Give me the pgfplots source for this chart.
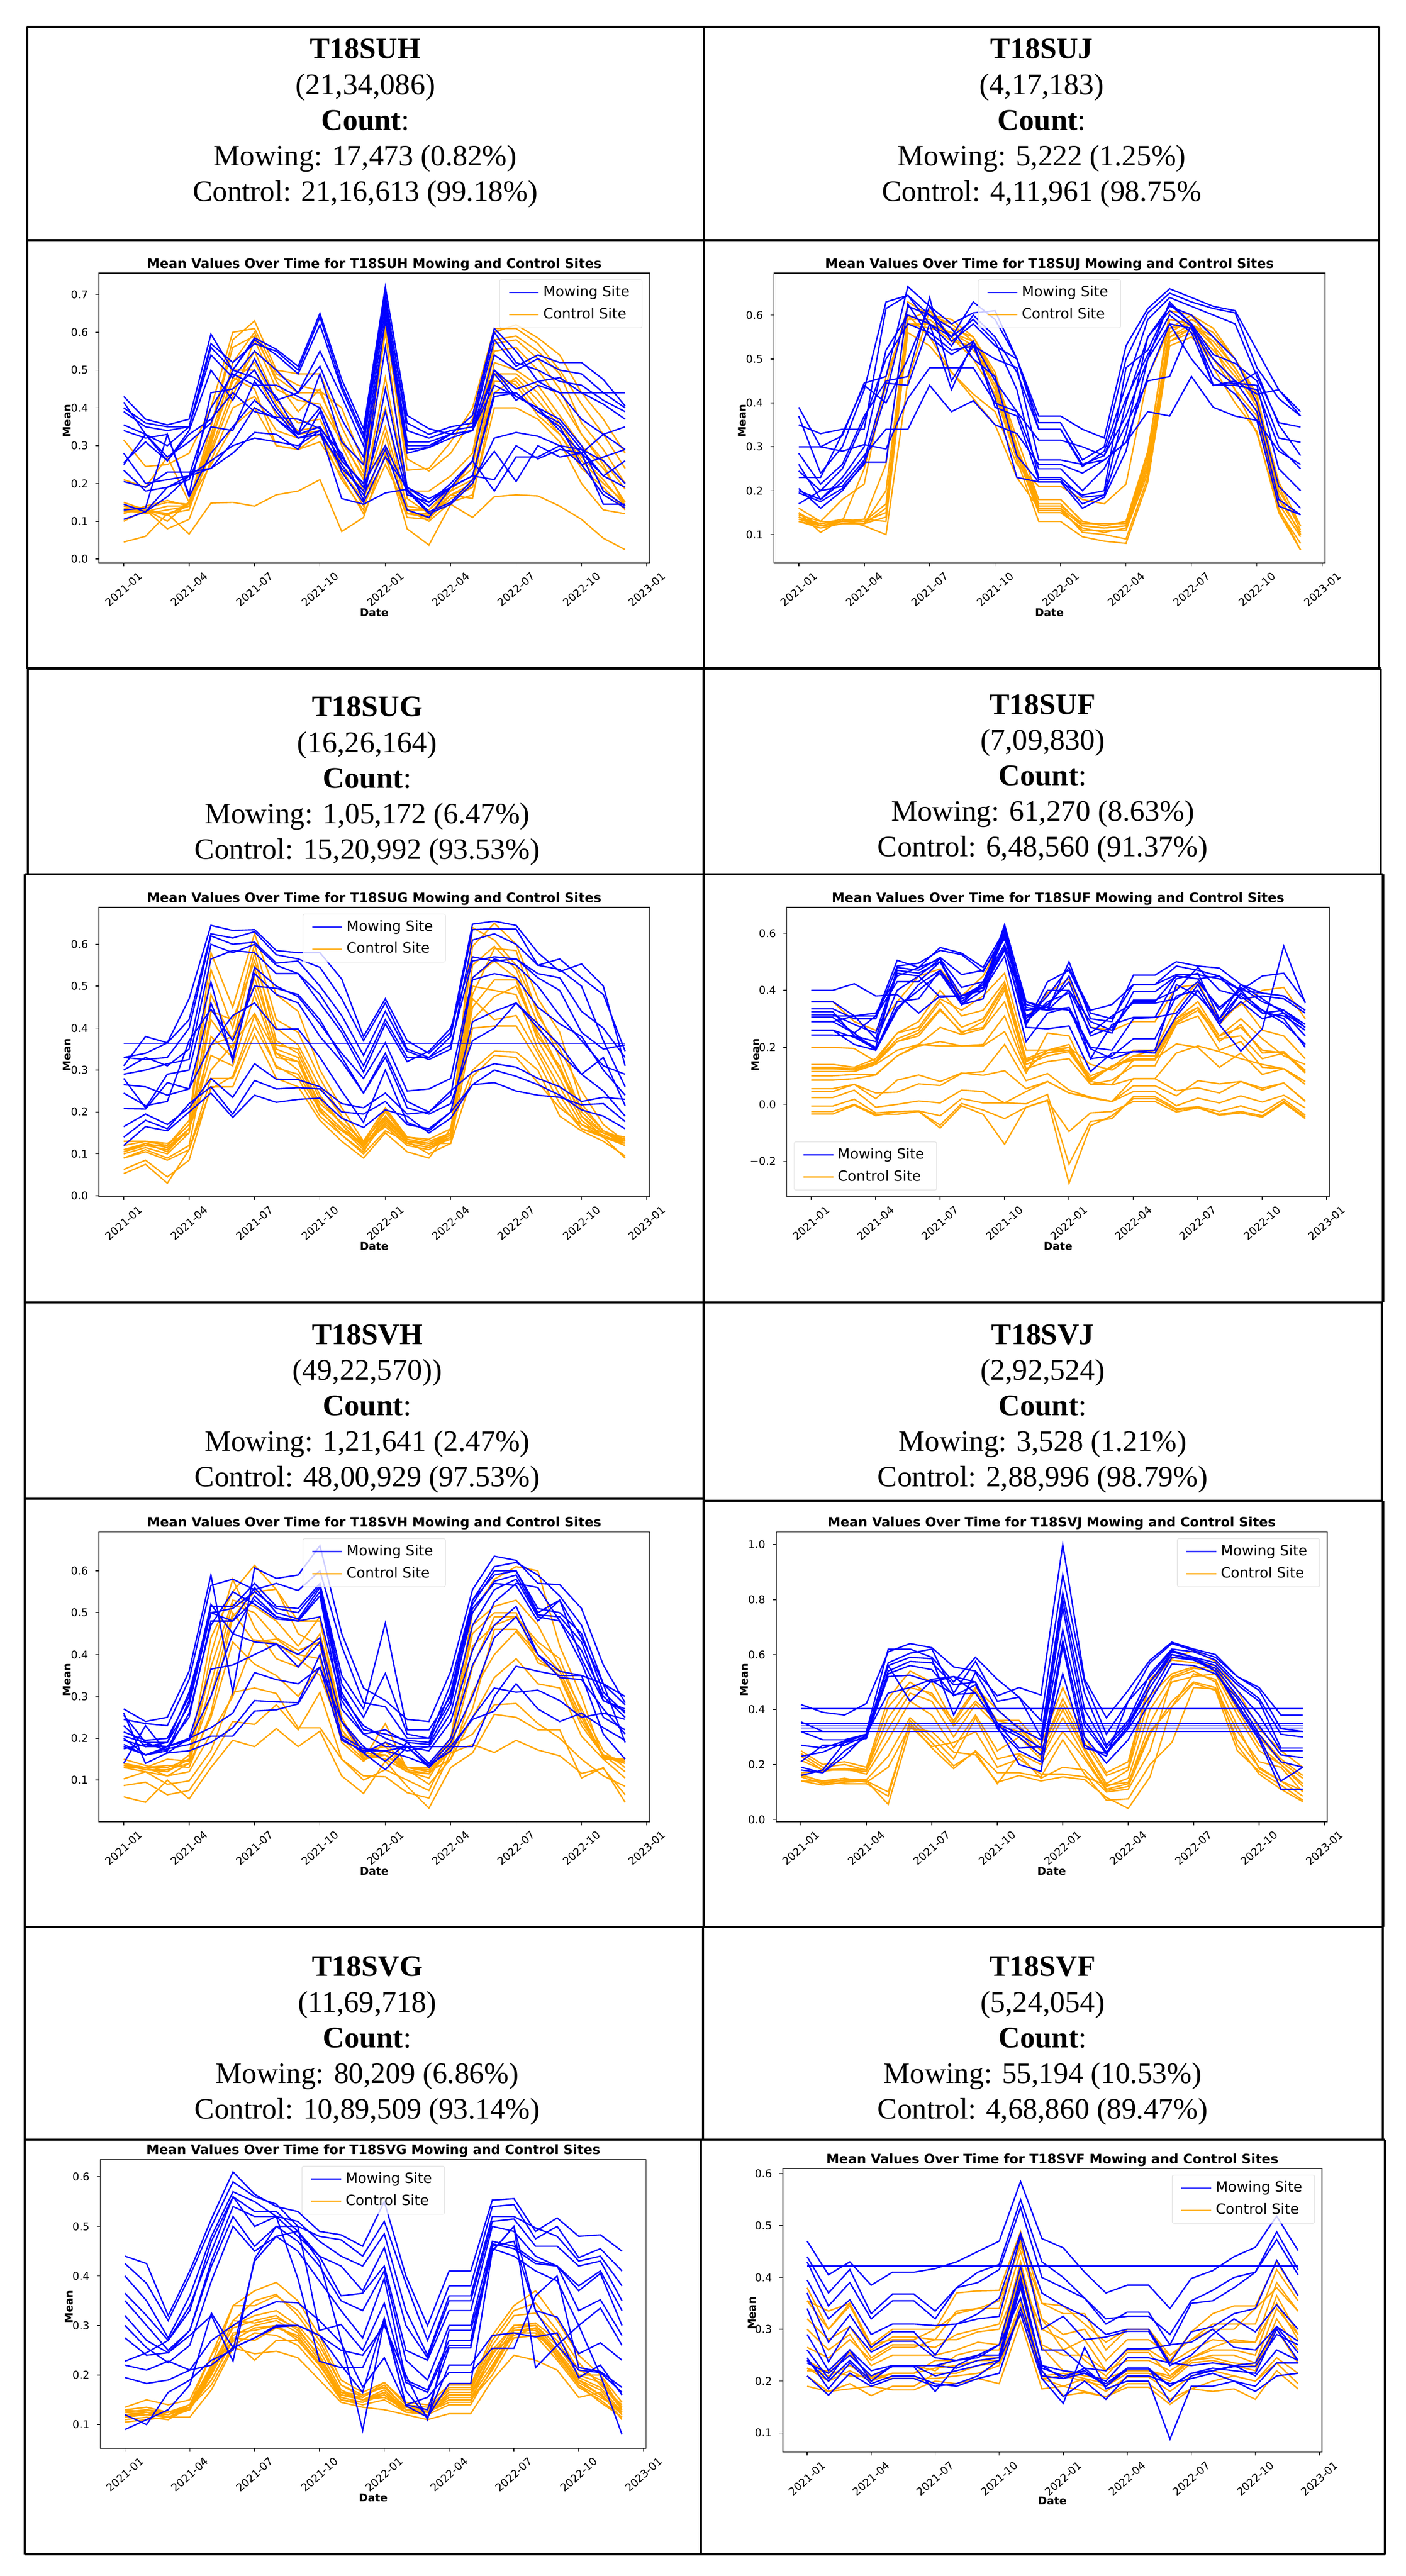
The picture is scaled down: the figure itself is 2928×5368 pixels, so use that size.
\documentclass[border=0pt]{standalone}
\usepackage{fontspec}
\setmainfont{Liberation Serif}
\newfontfamily\dv{DejaVu Sans}
\usepackage{pgfplots}
\pgfplotsset{compat=1.18}
\definecolor{mwc}{RGB}{0,0,255}
\definecolor{ctc}{RGB}{255,165,0}
\newcount\mc
\def\LLnext#1,{\ifx\relax#1\else\edef\LLc{\LLc(\the\mc,#1)}\advance\mc by 1 \expandafter\LLnext\fi}
\newcommand\LL[2]{\mc=0 \def\LLc{}\LLnext#2,\relax,\edef\LLt{\noexpand\addplot[#1,forget plot] coordinates {\LLc};}\LLt}
\newcommand\B[1]{\LL{mw}{#1}}
\newcommand\Or[1]{\LL{ct}{#1}}
\newcommand\Hd[8]{%
\node[anchor=base] at (#1,#2) {\fontsize{15.5}{18}\selectfont\bfseries #3};
\node[anchor=base] at (#1,#2+75) {\fontsize{15.6}{18}\selectfont #4};
\node[anchor=base] at (#1,#2+149) {\fontsize{15.6}{18}\selectfont\textbf{Count}:};
\node[anchor=base] at (#1,#2+223) {\fontsize{15.4}{18}\selectfont Mowing: #5};
\node[anchor=base] at (#1,#2+297) {\fontsize{15.4}{18}\selectfont Control: #6};}
\pgfplotsset{
 mw/.style={color=mwc,line width=.7pt,no markers,sharp plot},
 ct/.style={color=ctc,line width=.7pt,no markers,sharp plot},
 base/.style={scale only axis,xmin=-1.14,xmax=24.12,
  xtick={0,3,6,9,12,15,18,21,24},
  xticklabels={2021-01,2021-04,2021-07,2021-10,2022-01,2022-04,2022-07,2022-10,2023-01},
  tick align=outside,tick pos=left,major tick length=1.8pt,
  every tick/.style={black,line width=.4pt},axis line style={line width=.4pt},
  ticklabel style={font=\dv\fontsize{5.6}{6.6}\selectfont},
  xticklabel style={yshift=-12pt,rotate=41.5,anchor=center},
  yticklabel style={xshift=-.3pt},
  title style={at={(.5,1)},anchor=center,yshift=-1.5pt,font=\dv\bfseries\fontsize{6.8}{8}\selectfont},
  xlabel={Date},ylabel={Mean},
  xlabel style={at={(axis description cs:.5,-.172)},anchor=center,font=\dv\bfseries\fontsize{5.6}{6.6}\selectfont},
  ylabel style={at={(axis description cs:-.0575,.49)},anchor=center,font=\dv\bfseries\fontsize{5.6}{6.6}\selectfont},
  legend image code/.code={\draw[##1] (0pt,0pt)--(15.5pt,0pt);},
  legend cell align=left,
  legend style={font=\dv\fontsize{7.4}{8.8}\selectfont,rounded corners=.8pt,draw=black!15,line width=.3pt,
    fill opacity=.8,draw opacity=.8,text opacity=1,inner xsep=4.5pt,inner ysep=1.2pt,row sep=.4pt},
  legend entries={Mowing Site,Control Site}},
 UR/.style={legend style={at={(.987,.978)},anchor=north east}},
 UC/.style={legend style={at={(.5,.978)},anchor=north}},
 LL/.style={legend style={at={(.013,.022)},anchor=south west}}
}
\begin{document}
\begin{tikzpicture}
\begin{scope}[x=.25pt,y=-.25pt]
\path[use as bounding box] (0,0) rectangle (2928,5368);
\begin{scope}[line width=1.1pt,black]
\draw (56,56)--(2873,56);
\draw (58,500)--(2873,500);
\draw (58,1393)--(2876,1393);
\draw (52,1822)--(2881,1822);
\draw (52,2714)--(2878,2714);
\draw (52,3123)--(1466,3123);
\draw (1466,3127)--(2881,3127);
\draw (52,4015)--(2880,4015);
\draw (52,4459)--(2885,4459);
\draw (52,5323)--(2885,5323);
\draw (57,56)--(57,1393);
\draw (1467,56)--(1467,1393);
\draw (2873,56)--(2873,1393);
\draw (58,1393)--(58,1822) (1466,1393)--(1466,2714) (2876,1393)--(2876,1822);
\draw (52,1822)--(52,5323) (2881,1822)--(2881,2714) (2878,2714)--(2878,3127) (2881,3127)--(2881,4015) (2880,4015)--(2880,4459) (2885,4459)--(2885,5323);
\draw (1466,2714)--(1466,4015) (1464,4015)--(1464,4459) (1460,4459)--(1460,5323);
\end{scope}
\Hd{761}{122}{T18SUH}{(21,34,086)}{17,473 (0.82\%)}{21,16,613 (99.18\%)}{}{}
\Hd{2170}{122}{T18SUJ}{(4,17,183)}{5,222 (1.25\%)}{4,11,961 (98.75\%}{}{}
\Hd{765}{1493}{T18SUG}{(16,26,164)}{1,05,172 (6.47\%)}{15,20,992 (93.53\%)}{}{}
\Hd{2172}{1488}{T18SUF}{(7,09,830)}{61,270 (8.63\%)}{6,48,560 (91.37\%)}{}{}
\Hd{765}{2801}{T18SVH}{(49,22,570))}{1,21,641 (2.47\%)}{48,00,929 (97.53\%)}{}{}
\Hd{2172}{2801}{T18SVJ}{(2,92,524)}{3,528 (1.21\%)}{2,88,996 (98.79\%)}{}{}
\Hd{765}{4118}{T18SVG}{(11,69,718)}{80,209 (6.86\%)}{10,89,509 (93.14\%)}{}{}
\Hd{2172}{4118}{T18SVF}{(5,24,054)}{55,194 (10.53\%)}{4,68,860 (89.47\%)}{}{}
\end{scope}
% T18SUH
\begin{axis}[base,UR,at={(51.5pt,-293.25pt)},anchor=south west,width=286.75pt,height=151pt,ymin=-.0102,ymax=.7567,
 ytick={0,.1,.2,.3,.4,.5,.6,.7},yticklabels={0.0,0.1,0.2,0.3,0.4,0.5,0.6,0.7},
 title={Mean Values Over Time for T18SUH Mowing and Control Sites}]
\addlegendimage{mw}\addlegendimage{ct}
\Or{.045,.06,.12,.066,.148,.15,.14,.17,.18,.21,.073,.11,.28,.08,.037,.145,.11,.165,.17,.167,.14,.105,.055,.025}
\Or{.315,.245,.25,.28,.40,.60,.61,.49,.46,.445,.40,.25,.62,.265,.233,.28,.37,.60,.62,.585,.54,.44,.37,.28}
\Or{.21,.19,.27,.15,.35,.58,.63,.50,.49,.49,.35,.23,.63,.235,.24,.31,.40,.61,.61,.57,.50,.41,.33,.24}
\Or{.14,.135,.15,.145,.30,.52,.60,.47,.39,.45,.30,.18,.48,.18,.18,.22,.28,.58,.59,.55,.49,.36,.29,.20}
\Or{.125,.125,.12,.13,.29,.45,.55,.42,.36,.37,.25,.18,.35,.14,.13,.18,.21,.52,.50,.46,.38,.30,.24,.15}
\Or{.10,.13,.08,.105,.26,.40,.43,.34,.32,.33,.21,.13,.33,.12,.11,.16,.19,.47,.47,.40,.33,.25,.17,.135}
\Or{.15,.13,.10,.15,.25,.35,.40,.30,.29,.31,.22,.12,.25,.13,.10,.15,.17,.40,.40,.37,.31,.20,.13,.12}
\Or{.12,.14,.155,.14,.33,.50,.50,.38,.34,.35,.26,.20,.30,.12,.12,.17,.16,.44,.48,.42,.35,.26,.20,.15}
\Or{.135,.125,.14,.14,.28,.43,.58,.45,.42,.41,.31,.22,.40,.13,.13,.19,.24,.55,.56,.50,.42,.33,.26,.185}
\Or{.14,.13,.115,.15,.31,.48,.45,.30,.29,.33,.24,.14,.27,.11,.105,.17,.20,.49,.46,.38,.33,.24,.19,.13}
\Or{.13,.13,.12,.14,.35,.56,.59,.48,.44,.44,.32,.21,.60,.16,.12,.18,.26,.57,.58,.53,.45,.33,.25,.14}
\Or{.13,.12,.13,.14,.32,.47,.52,.41,.33,.34,.23,.16,.30,.12,.115,.17,.19,.49,.49,.44,.36,.27,.21,.14}
\B{.43,.37,.355,.37,.595,.50,.585,.555,.51,.65,.475,.345,.72,.38,.345,.33,.38,.61,.55,.47,.44,.44,.44,.44}
\B{.415,.33,.30,.35,.57,.52,.57,.55,.50,.64,.46,.33,.70,.34,.32,.34,.35,.58,.51,.54,.52,.52,.475,.405}
\B{.39,.35,.34,.35,.54,.48,.55,.50,.44,.55,.43,.30,.68,.31,.31,.33,.34,.54,.50,.53,.50,.49,.44,.40}
\B{.355,.33,.26,.34,.50,.42,.53,.42,.44,.51,.37,.27,.66,.30,.30,.33,.34,.50,.45,.47,.48,.44,.41,.37}
\B{.34,.32,.33,.17,.44,.45,.50,.40,.33,.49,.31,.25,.63,.28,.295,.33,.34,.49,.42,.46,.44,.37,.33,.29}
\B{.28,.20,.21,.22,.40,.49,.46,.46,.43,.40,.26,.20,.56,.19,.16,.19,.22,.44,.44,.39,.36,.29,.22,.26}
\B{.255,.31,.26,.33,.37,.44,.39,.375,.37,.345,.28,.155,.45,.18,.14,.19,.22,.43,.44,.39,.35,.25,.27,.29}
\B{.235,.18,.19,.21,.35,.34,.47,.39,.32,.34,.24,.18,.39,.17,.15,.20,.26,.50,.43,.40,.34,.28,.33,.35}
\B{.205,.19,.23,.23,.24,.31,.40,.37,.33,.35,.26,.20,.30,.18,.12,.145,.20,.32,.335,.325,.30,.29,.26,.20}
\B{.145,.125,.165,.22,.24,.28,.335,.33,.29,.39,.23,.15,.27,.19,.15,.19,.22,.21,.30,.265,.29,.28,.145,.145}
\B{.105,.125,.19,.22,.26,.30,.32,.31,.30,.34,.16,.145,.175,.185,.125,.15,.21,.285,.205,.30,.27,.28,.22,.19}
\B{.13,.135,.33,.165,.28,.35,.42,.37,.32,.33,.25,.17,.29,.13,.11,.19,.26,.18,.27,.27,.30,.25,.17,.135}
\B{.40,.36,.35,.35,.56,.50,.58,.54,.49,.62,.45,.32,.69,.36,.33,.35,.36,.60,.52,.50,.47,.46,.42,.39}
\B{.25,.33,.27,.31,.36,.50,.48,.43,.33,.40,.27,.19,.64,.29,.295,.32,.34,.46,.43,.40,.37,.30,.18,.14}
\end{axis}
% T18SUJ
\begin{axis}[base,UC,at={(403pt,-293.25pt)},anchor=south west,width=287pt,height=151pt,ymin=.0355,ymax=.6957,
 ytick={.1,.2,.3,.4,.5,.6},yticklabels={0.1,0.2,0.3,0.4,0.5,0.6},
 title={Mean Values Over Time for T18SUJ Mowing and Control Sites}]
\addlegendimage{mw}\addlegendimage{ct}
\Or{.16,.13,.18,.215,.46,.60,.55,.47,.42,.38,.26,.21,.21,.18,.17,.215,.46,.57,.60,.53,.43,.33,.16,.065}
\Or{.15,.12,.13,.25,.44,.62,.60,.58,.54,.46,.29,.18,.18,.13,.12,.13,.29,.59,.58,.55,.48,.40,.21,.11}
\Or{.14,.125,.135,.13,.17,.59,.61,.57,.55,.47,.30,.165,.165,.125,.125,.125,.27,.56,.59,.56,.50,.42,.20,.12}
\Or{.135,.12,.13,.13,.15,.58,.57,.56,.53,.44,.29,.16,.16,.12,.115,.12,.25,.55,.58,.53,.47,.39,.19,.10}
\Or{.13,.115,.125,.125,.14,.58,.58,.54,.53,.43,.28,.155,.155,.11,.11,.11,.24,.54,.56,.50,.45,.38,.17,.095}
\Or{.15,.105,.135,.12,.10,.45,.61,.55,.50,.42,.27,.13,.13,.095,.085,.08,.22,.53,.55,.50,.43,.37,.155,.08}
\Or{.145,.13,.13,.135,.26,.63,.60,.59,.55,.46,.32,.18,.18,.13,.12,.13,.28,.61,.60,.57,.50,.41,.22,.12}
\Or{.135,.125,.13,.135,.13,.56,.53,.47,.41,.35,.23,.16,.16,.105,.10,.09,.23,.55,.57,.48,.40,.335,.15,.065}
\Or{.14,.12,.13,.125,.20,.60,.58,.56,.54,.45,.30,.17,.17,.12,.115,.12,.26,.57,.58,.54,.48,.40,.19,.10}
\Or{.13,.12,.125,.125,.16,.59,.59,.55,.52,.46,.28,.15,.15,.115,.105,.115,.25,.54,.57,.52,.46,.40,.18,.105}
\B{.39,.30,.325,.445,.46,.665,.62,.58,.605,.61,.50,.37,.37,.34,.32,.53,.615,.66,.64,.62,.61,.52,.43,.38}
\B{.37,.24,.30,.43,.63,.645,.60,.55,.63,.59,.50,.355,.355,.27,.30,.50,.605,.65,.63,.615,.605,.48,.41,.37}
\B{.35,.33,.34,.34,.615,.645,.58,.53,.60,.55,.47,.34,.34,.255,.29,.44,.59,.64,.62,.60,.58,.46,.355,.345}
\B{.30,.30,.29,.305,.295,.41,.48,.48,.48,.40,.38,.315,.315,.30,.28,.37,.50,.63,.58,.51,.49,.45,.32,.31}
\B{.285,.215,.26,.37,.45,.46,.64,.45,.53,.50,.48,.27,.27,.26,.27,.31,.46,.58,.50,.44,.45,.42,.43,.37}
\B{.26,.18,.22,.28,.34,.34,.44,.38,.405,.35,.33,.26,.26,.24,.27,.31,.38,.37,.46,.39,.37,.36,.29,.26}
\B{.245,.20,.21,.27,.445,.44,.58,.43,.54,.45,.38,.25,.25,.20,.25,.35,.45,.46,.58,.44,.445,.44,.25,.20}
\B{.205,.16,.20,.265,.265,.625,.55,.51,.54,.39,.37,.225,.225,.17,.19,.33,.55,.61,.575,.50,.45,.38,.18,.145}
\B{.20,.18,.23,.30,.52,.60,.58,.55,.59,.54,.43,.23,.23,.185,.19,.40,.55,.62,.60,.55,.50,.40,.21,.16}
\B{.17,.20,.25,.36,.50,.58,.56,.52,.53,.41,.23,.22,.22,.16,.185,.29,.50,.58,.57,.46,.42,.36,.165,.145}
\B{.195,.175,.205,.26,.42,.62,.60,.57,.50,.46,.28,.22,.22,.19,.20,.48,.52,.625,.58,.48,.44,.43,.30,.25}
\B{.23,.23,.33,.44,.40,.50,.62,.54,.58,.53,.50,.34,.34,.26,.28,.41,.51,.60,.56,.44,.44,.47,.35,.28}
\end{axis}
% T18SUG
\begin{axis}[base,UC,at={(51.5pt,-623.4pt)},anchor=south west,width=286.75pt,height=150.7pt,ymin=-.002,ymax=.688,
 ytick={0,.1,.2,.3,.4,.5,.6},yticklabels={0.0,0.1,0.2,0.3,0.4,0.5,0.6},
 title={Mean Values Over Time for T18SUG Mowing and Control Sites}]
\addlegendimage{mw}\addlegendimage{ct}
\Or{.13,.13,.12,.18,.58,.45,.625,.48,.44,.30,.21,.13,.21,.14,.13,.15,.595,.65,.60,.47,.39,.22,.155,.13}
\Or{.11,.12,.12,.17,.54,.40,.60,.42,.39,.28,.19,.125,.20,.135,.125,.15,.64,.61,.55,.44,.33,.20,.15,.14}
\Or{.10,.115,.10,.15,.48,.37,.58,.37,.34,.23,.17,.115,.19,.13,.12,.14,.55,.595,.54,.41,.30,.19,.14,.13}
\Or{.09,.11,.09,.12,.38,.33,.545,.35,.33,.21,.16,.11,.175,.125,.115,.135,.45,.515,.515,.37,.28,.18,.14,.125}
\Or{.105,.125,.105,.16,.335,.31,.48,.33,.32,.20,.155,.12,.17,.125,.115,.14,.50,.49,.48,.35,.26,.17,.15,.125}
\Or{.11,.125,.115,.16,.30,.36,.435,.34,.30,.21,.16,.125,.165,.12,.11,.14,.47,.42,.43,.34,.24,.16,.145,.12}
\Or{.09,.105,.085,.11,.28,.28,.405,.31,.28,.19,.145,.10,.155,.13,.125,.125,.40,.405,.405,.32,.22,.16,.14,.12}
\Or{.063,.085,.045,.085,.26,.26,.385,.28,.26,.18,.13,.09,.15,.105,.09,.16,.30,.345,.343,.30,.19,.155,.13,.095}
\Or{.053,.075,.03,.11,.255,.285,.43,.305,.29,.205,.145,.105,.185,.13,.10,.125,.285,.335,.33,.27,.21,.17,.14,.09}
\Or{.13,.13,.125,.15,.44,.42,.56,.40,.36,.26,.19,.12,.205,.14,.135,.16,.48,.59,.585,.43,.35,.25,.17,.13}
\Or{.12,.13,.12,.17,.36,.38,.50,.34,.32,.22,.175,.13,.19,.135,.125,.145,.42,.475,.50,.39,.30,.21,.155,.135}
\Or{.105,.12,.11,.16,.42,.35,.52,.36,.35,.24,.17,.12,.18,.13,.12,.145,.52,.56,.52,.38,.31,.19,.15,.13}
\B{.364,.364,.364,.364,.364,.364,.364,.364,.364,.364,.364,.364,.364,.364,.364,.364,.364,.364,.364,.364,.364,.364,.364,.364}
\B{.33,.34,.365,.47,.645,.633,.635,.585,.58,.58,.517,.38,.47,.37,.34,.39,.648,.655,.645,.58,.535,.553,.50,.31}
\B{.31,.38,.365,.42,.625,.615,.63,.575,.565,.545,.47,.37,.46,.35,.33,.38,.635,.637,.636,.55,.565,.52,.48,.345}
\B{.33,.325,.33,.40,.62,.60,.605,.555,.56,.50,.43,.335,.44,.345,.325,.35,.61,.625,.60,.55,.54,.50,.37,.26}
\B{.29,.30,.315,.325,.565,.585,.58,.53,.53,.46,.39,.295,.41,.32,.345,.40,.57,.56,.565,.52,.49,.39,.35,.36}
\B{.28,.21,.29,.30,.51,.32,.545,.50,.475,.41,.34,.28,.365,.25,.255,.28,.52,.565,.55,.50,.43,.37,.31,.29}
\B{.265,.26,.24,.255,.46,.33,.53,.48,.46,.38,.32,.245,.34,.225,.20,.24,.515,.53,.52,.45,.41,.38,.30,.24}
\B{.245,.215,.225,.37,.445,.37,.50,.495,.48,.42,.33,.245,.33,.21,.195,.22,.37,.40,.46,.41,.36,.29,.33,.215}
\B{.208,.207,.27,.255,.36,.43,.46,.397,.398,.33,.25,.175,.30,.175,.155,.20,.415,.44,.46,.40,.34,.29,.25,.19}
\B{.165,.195,.17,.21,.28,.235,.315,.278,.277,.26,.22,.21,.245,.195,.20,.25,.295,.315,.307,.28,.26,.225,.235,.23}
\B{.14,.18,.16,.22,.26,.195,.275,.255,.258,.255,.20,.195,.225,.17,.16,.20,.265,.30,.285,.265,.24,.205,.19,.16}
\B{.12,.165,.155,.20,.245,.187,.24,.223,.23,.233,.185,.163,.205,.19,.15,.185,.265,.27,.25,.24,.235,.217,.22,.177}
\B{.30,.33,.31,.35,.60,.58,.60,.55,.53,.48,.40,.31,.42,.33,.33,.36,.56,.57,.565,.53,.52,.44,.40,.33}
\end{axis}
% T18SUF
\begin{axis}[base,LL,at={(409.75pt,-623.4pt)},anchor=south west,width=282.5pt,height=150.7pt,ymin=-.3236,ymax=.6907,
 ytick={-.2,0,.2,.4,.6},yticklabels={−0.2,0.0,0.2,0.4,0.6},
 title={Mean Values Over Time for T18SUF Mowing and Control Sites}]
\addlegendimage{mw}\addlegendimage{ct}
\Or{.36,.36,.29,.26,.36,.45,.475,.38,.45,.59,.30,.39,.44,.27,.26,.29,.29,.41,.42,.30,.35,.40,.41,.30}
\Or{.20,.20,.196,.15,.25,.27,.37,.33,.38,.46,.19,.19,.20,.14,.12,.17,.19,.34,.43,.28,.36,.26,.24,.16}
\Or{.14,.14,.13,.16,.25,.29,.40,.31,.33,.43,.16,.19,.19,.10,.13,.19,.19,.30,.36,.24,.30,.23,.17,.14}
\Or{.13,.13,.125,.15,.22,.25,.335,.25,.29,.41,.15,.18,.20,.085,.135,.16,.16,.29,.34,.22,.28,.18,.185,.115}
\Or{.125,.125,.12,.145,.22,.24,.33,.255,.27,.40,.14,.17,.185,.08,.135,.155,.155,.285,.33,.23,.24,.16,.18,.11}
\Or{.115,.115,.115,.14,.19,.21,.27,.245,.265,.36,.125,.15,.16,.07,.085,.135,.135,.28,.31,.19,.22,.13,.125,.08}
\Or{.10,.10,.105,.105,.17,.21,.205,.205,.21,.31,.12,.19,.21,.07,.07,.155,.16,.212,.20,.13,.18,.105,.125,.07}
\Or{.085,.085,.09,.103,.17,.205,.22,.205,.205,.255,.11,.25,.24,.08,.068,.09,.09,.18,.205,.185,.16,.14,.125,.08}
\Or{.055,.055,.07,.04,.043,.072,.066,.108,.115,.21,.083,.108,.05,.025,.01,.09,.09,.048,.058,.04,.08,.057,.075,.012}
\Or{.045,.045,.07,.02,.085,.103,.08,.11,.102,.118,.055,.08,.04,.025,.01,.065,.065,.03,.083,.072,.08,.05,.075,.01}
\Or{.024,.024,.05,-.01,0,.012,.005,.05,.045,.005,.045,.08,.04,.022,.01,.045,.045,-.005,.022,.005,.03,.008,.032,-.012}
\Or{-.006,-.006,.018,-.03,-.025,-.023,-.04,.02,.005,.005,.002,.035,-.21,-.06,-.05,.027,.027,-.015,-.008,-.025,-.005,-.028,.018,-.038}
\Or{-.025,-.025,0,-.035,-.035,-.025,-.073,.003,-.02,-.05,-.01,.015,-.277,-.075,-.04,.02,.02,-.02,-.01,-.035,-.025,-.04,.01,-.045}
\Or{-.034,-.034,-.003,-.04,-.025,-.025,-.083,-.005,-.035,-.14,-.01,.013,-.095,-.03,-.025,.01,.01,-.027,-.012,-.038,-.03,-.045,.005,-.05}
\Or{.125,.125,.125,.15,.23,.26,.36,.27,.30,.42,.155,.18,.19,.09,.13,.17,.17,.30,.34,.24,.27,.19,.18,.12}
\B{.40,.40,.423,.38,.385,.32,.38,.38,.41,.63,.36,.33,.50,.30,.29,.453,.453,.50,.485,.478,.42,.39,.38,.33}
\B{.36,.36,.31,.31,.505,.48,.55,.53,.48,.61,.30,.38,.48,.33,.35,.42,.42,.485,.47,.45,.40,.45,.46,.36}
\B{.335,.335,.30,.30,.485,.495,.54,.525,.465,.60,.28,.43,.47,.32,.30,.42,.42,.455,.455,.44,.40,.39,.38,.33}
\B{.325,.325,.24,.20,.48,.47,.515,.455,.47,.58,.36,.34,.45,.27,.25,.395,.395,.45,.44,.45,.37,.38,.37,.32}
\B{.31,.31,.31,.23,.46,.45,.51,.41,.43,.56,.35,.33,.40,.29,.26,.365,.365,.40,.48,.40,.38,.32,.33,.28}
\B{.305,.305,.25,.31,.43,.43,.50,.36,.42,.55,.28,.40,.40,.25,.31,.355,.355,.37,.43,.34,.40,.32,.31,.26}
\B{.29,.29,.25,.19,.36,.37,.47,.37,.41,.54,.34,.33,.34,.20,.19,.30,.305,.32,.42,.29,.36,.30,.32,.24}
\B{.26,.26,.21,.19,.33,.42,.47,.35,.40,.52,.22,.32,.34,.16,.17,.23,.23,.38,.40,.28,.39,.33,.30,.20}
\B{.243,.243,.24,.22,.40,.45,.375,.38,.40,.55,.27,.265,.275,.115,.18,.185,.19,.42,.38,.30,.39,.33,.285,.21}
\B{.26,.26,.235,.195,.34,.40,.46,.35,.37,.62,.33,.34,.33,.195,.16,.185,.18,.31,.40,.28,.187,.265,.555,.355}
\B{.29,.29,.31,.32,.45,.48,.51,.35,.43,.60,.29,.36,.39,.16,.28,.305,.305,.44,.46,.30,.42,.37,.32,.27}
\B{.315,.315,.28,.25,.47,.46,.50,.38,.42,.59,.31,.35,.43,.24,.27,.36,.36,.45,.44,.33,.41,.36,.33,.27}
\end{axis}
% T18SVH
\begin{axis}[base,UC,at={(51.5pt,-949pt)},anchor=south west,width=286.75pt,height=150.9pt,ymin=.0007,ymax=.6928,
 ytick={.1,.2,.3,.4,.5,.6},yticklabels={0.1,0.2,0.3,0.4,0.5,0.6},
 title={Mean Values Over Time for T18SVH Mowing and Control Sites}]
\addlegendimage{mw}\addlegendimage{ct}
\Or{.06,.047,.10,.055,.13,.195,.18,.223,.18,.217,.11,.068,.145,.085,.033,.13,.165,.257,.25,.22,.22,.105,.13,.047}
\Or{.087,.095,.065,.075,.15,.24,.233,.28,.22,.31,.15,.11,.108,.07,.057,.165,.185,.166,.195,.172,.158,.116,.128,.065}
\Or{.103,.12,.09,.098,.17,.31,.32,.307,.225,.225,.15,.10,.125,.10,.075,.18,.21,.28,.283,.235,.20,.15,.11,.085}
\Or{.13,.12,.11,.14,.25,.43,.377,.35,.30,.37,.20,.15,.235,.125,.09,.15,.25,.345,.39,.33,.32,.205,.15,.105}
\Or{.14,.13,.13,.15,.30,.50,.43,.437,.40,.39,.19,.145,.19,.13,.12,.15,.31,.40,.455,.39,.35,.24,.16,.12}
\Or{.135,.13,.15,.145,.40,.58,.465,.39,.37,.45,.24,.17,.18,.13,.13,.20,.45,.50,.50,.38,.36,.25,.16,.14}
\Or{.135,.125,.12,.15,.37,.53,.515,.48,.42,.49,.22,.16,.15,.12,.105,.19,.47,.515,.53,.47,.37,.27,.17,.13}
\Or{.15,.135,.12,.16,.44,.55,.613,.555,.48,.48,.25,.15,.17,.13,.12,.20,.50,.58,.61,.60,.42,.30,.15,.15}
\Or{.135,.13,.135,.13,.26,.49,.55,.556,.45,.42,.24,.15,.16,.125,.115,.17,.37,.49,.49,.43,.39,.26,.155,.145}
\Or{.13,.13,.11,.12,.21,.30,.435,.427,.39,.35,.21,.165,.16,.13,.125,.17,.27,.46,.46,.40,.345,.23,.16,.145}
\Or{.14,.125,.125,.14,.33,.52,.50,.44,.41,.43,.22,.155,.16,.12,.115,.18,.42,.47,.49,.42,.36,.25,.155,.14}
\B{.27,.24,.25,.36,.59,.31,.607,.582,.59,.66,.45,.32,.29,.245,.24,.36,.555,.635,.625,.57,.567,.51,.375,.285}
\B{.245,.235,.23,.34,.565,.58,.555,.57,.553,.60,.42,.285,.275,.20,.20,.33,.53,.61,.62,.59,.54,.47,.33,.30}
\B{.215,.195,.20,.30,.515,.515,.57,.515,.51,.57,.35,.27,.475,.22,.22,.30,.52,.60,.60,.50,.53,.44,.33,.28}
\B{.205,.19,.19,.28,.50,.51,.55,.51,.50,.565,.33,.25,.355,.21,.20,.29,.50,.575,.59,.495,.49,.43,.29,.265}
\B{.195,.18,.18,.25,.48,.48,.53,.49,.48,.55,.30,.23,.20,.18,.18,.26,.47,.555,.58,.49,.48,.41,.30,.25}
\B{.18,.16,.17,.26,.47,.55,.52,.485,.48,.54,.27,.21,.18,.18,.17,.24,.41,.525,.57,.56,.48,.38,.25,.22}
\B{.175,.185,.18,.195,.30,.45,.43,.425,.40,.44,.24,.18,.145,.19,.14,.20,.375,.47,.515,.40,.345,.34,.27,.21}
\B{.26,.14,.165,.20,.365,.375,.40,.425,.37,.43,.20,.165,.125,.18,.135,.19,.30,.44,.49,.40,.36,.35,.33,.19}
\B{.14,.23,.165,.17,.19,.225,.29,.287,.285,.40,.205,.175,.17,.18,.13,.18,.18,.30,.372,.36,.35,.35,.21,.15}
\B{.20,.16,.18,.20,.225,.26,.357,.34,.33,.37,.24,.165,.19,.17,.18,.18,.245,.265,.33,.27,.24,.26,.225,.195}
\B{.185,.16,.175,.185,.205,.205,.265,.268,.282,.37,.195,.17,.17,.155,.135,.17,.25,.32,.31,.315,.29,.25,.26,.245}
\B{.255,.19,.17,.29,.52,.45,.54,.49,.48,.49,.29,.21,.22,.19,.185,.28,.51,.57,.565,.48,.53,.39,.29,.27}
\B{.23,.18,.19,.31,.50,.48,.56,.50,.485,.56,.31,.22,.21,.195,.19,.31,.53,.59,.60,.51,.50,.45,.31,.26}
\end{axis}
% T18SVJ
\begin{axis}[base,UR,at={(404.15pt,-949pt)},anchor=south west,width=287pt,height=150.9pt,ymin=-.008,ymax=1.046,
 ytick={0,.2,.4,.6,.8,1},yticklabels={0.0,0.2,0.4,0.6,0.8,1.0},
 title={Mean Values Over Time for T18SVJ Mowing and Control Sites}]
\addlegendimage{mw}\addlegendimage{ct}
\Or{.25,.20,.21,.19,.44,.54,.50,.35,.47,.36,.36,.27,.48,.30,.17,.21,.51,.585,.615,.575,.47,.33,.25,.19}
\Or{.24,.19,.20,.18,.41,.50,.45,.36,.48,.40,.33,.25,.44,.28,.16,.19,.50,.58,.57,.56,.44,.31,.22,.16}
\Or{.23,.18,.185,.18,.37,.48,.46,.34,.43,.36,.34,.25,.42,.26,.13,.18,.45,.53,.555,.55,.42,.30,.21,.15}
\Or{.215,.18,.18,.175,.33,.46,.43,.30,.42,.34,.32,.23,.40,.25,.12,.15,.40,.52,.55,.54,.40,.27,.20,.13}
\Or{.17,.175,.185,.165,.29,.43,.38,.26,.38,.25,.30,.22,.37,.23,.11,.13,.35,.50,.52,.53,.38,.25,.20,.12}
\Or{.155,.13,.145,.145,.23,.37,.30,.22,.37,.22,.24,.20,.32,.22,.105,.12,.31,.43,.50,.48,.32,.21,.19,.10}
\Or{.14,.14,.14,.14,.10,.35,.26,.185,.25,.17,.17,.155,.29,.165,.07,.075,.20,.28,.48,.475,.29,.19,.14,.085}
\Or{.14,.125,.135,.14,.055,.33,.32,.245,.235,.135,.16,.14,.155,.145,.08,.04,.155,.41,.495,.47,.25,.175,.125,.07}
\Or{.165,.135,.13,.13,.085,.36,.28,.195,.245,.13,.235,.15,.19,.18,.10,.11,.25,.515,.54,.50,.27,.165,.11,.065}
\Or{.16,.14,.15,.135,.19,.34,.265,.28,.32,.19,.22,.165,.165,.155,.125,.135,.32,.41,.53,.51,.34,.185,.14,.105}
\B{.403,.403,.403,.403,.403,.403,.403,.403,.403,.403,.403,.403,.403,.403,.403,.403,.403,.403,.403,.403,.403,.403,.403,.403}
\B{.35,.35,.35,.35,.35,.35,.35,.35,.35,.35,.35,.35,.35,.35,.35,.35,.35,.35,.35,.35,.35,.35,.35,.35}
\B{.34,.34,.34,.34,.34,.34,.34,.34,.34,.34,.34,.34,.34,.34,.34,.34,.34,.34,.34,.34,.34,.34,.34,.34}
\B{.333,.333,.333,.333,.333,.333,.333,.333,.333,.333,.333,.333,.333,.333,.333,.333,.333,.333,.333,.333,.333,.333,.333,.333}
\B{.32,.32,.32,.32,.32,.32,.32,.32,.32,.32,.32,.32,.32,.32,.32,.32,.32,.32,.32,.32,.32,.32,.32,.32}
\B{.418,.39,.38,.422,.61,.64,.625,.555,.54,.45,.48,.453,1.0,.51,.37,.47,.58,.645,.62,.60,.52,.48,.38,.38}
\B{.355,.32,.32,.32,.62,.62,.59,.50,.59,.51,.445,.36,.89,.50,.31,.43,.57,.64,.615,.59,.52,.47,.33,.32}
\B{.32,.29,.29,.31,.57,.605,.62,.46,.575,.43,.445,.30,.825,.46,.27,.36,.53,.62,.61,.58,.50,.44,.31,.30}
\B{.27,.26,.285,.31,.56,.59,.585,.38,.535,.40,.33,.29,.80,.40,.26,.35,.50,.61,.59,.57,.49,.43,.26,.26}
\B{.23,.245,.28,.295,.54,.575,.57,.49,.50,.35,.31,.26,.77,.36,.245,.34,.48,.60,.585,.56,.47,.38,.25,.25}
\B{.21,.27,.27,.305,.53,.56,.545,.45,.49,.35,.26,.265,.69,.34,.24,.33,.45,.59,.58,.55,.45,.34,.235,.225}
\B{.19,.17,.25,.30,.52,.525,.50,.52,.50,.33,.25,.21,.65,.30,.205,.29,.43,.565,.56,.53,.44,.31,.21,.19}
\B{.16,.18,.28,.31,.46,.48,.51,.52,.46,.34,.20,.175,.63,.27,.23,.43,.52,.615,.59,.54,.42,.30,.14,.19}
\B{.18,.17,.23,.31,.56,.43,.505,.455,.46,.34,.30,.235,.53,.26,.24,.34,.50,.60,.58,.54,.41,.29,.11,.11}
\end{axis}
% T18SVG
\begin{axis}[base,UC,at={(52.25pt,-1275.4pt)},anchor=south west,width=284.25pt,height=150.4pt,ymin=.0524,ymax=.635,
 ytick={.1,.2,.3,.4,.5,.6},yticklabels={0.1,0.2,0.3,0.4,0.5,0.6},
 title={Mean Values Over Time for T18SVG Mowing and Control Sites}]
\addlegendimage{mw}\addlegendimage{ct}
\Or{.135,.15,.14,.15,.24,.34,.37,.387,.35,.28,.19,.165,.185,.145,.14,.18,.18,.28,.34,.37,.31,.24,.20,.145}
\Or{.13,.135,.125,.14,.22,.34,.34,.36,.33,.27,.18,.16,.175,.135,.13,.175,.175,.27,.33,.345,.29,.225,.18,.14}
\Or{.125,.13,.12,.14,.24,.31,.35,.363,.32,.26,.18,.155,.185,.14,.135,.17,.17,.26,.32,.325,.28,.21,.19,.135}
\Or{.13,.125,.125,.135,.20,.30,.32,.33,.30,.25,.17,.15,.17,.13,.125,.165,.165,.24,.30,.305,.27,.20,.20,.13}
\Or{.12,.125,.12,.135,.22,.295,.31,.32,.29,.24,.165,.15,.16,.13,.13,.16,.16,.23,.295,.30,.25,.195,.175,.125}
\Or{.115,.12,.115,.13,.21,.28,.30,.31,.285,.23,.16,.15,.155,.13,.125,.155,.155,.22,.29,.29,.24,.19,.17,.12}
\Or{.125,.12,.12,.135,.19,.275,.27,.295,.28,.22,.155,.145,.165,.13,.125,.15,.15,.21,.285,.285,.24,.185,.16,.125}
\Or{.11,.115,.11,.135,.18,.26,.285,.28,.26,.21,.15,.14,.15,.125,.125,.15,.15,.20,.275,.28,.23,.175,.15,.115}
\Or{.105,.11,.115,.115,.17,.255,.243,.248,.235,.19,.145,.135,.13,.12,.11,.122,.122,.19,.24,.23,.21,.155,.165,.11}
\Or{.12,.12,.125,.14,.19,.27,.23,.27,.27,.22,.16,.155,.18,.13,.125,.145,.145,.25,.275,.28,.25,.18,.155,.13}
\Or{.13,.125,.115,.13,.20,.285,.29,.30,.27,.22,.16,.15,.165,.13,.12,.16,.16,.245,.28,.295,.245,.19,.16,.12}
\Or{.125,.13,.125,.13,.205,.31,.305,.315,.295,.235,.165,.16,.175,.135,.13,.17,.17,.25,.30,.30,.26,.20,.185,.13}
\Or{.115,.125,.115,.135,.215,.27,.295,.30,.275,.225,.15,.145,.16,.125,.12,.14,.14,.215,.29,.295,.235,.18,.145,.115}
\B{.44,.425,.32,.41,.515,.61,.565,.54,.53,.49,.483,.46,.55,.40,.30,.41,.41,.553,.556,.49,.517,.48,.483,.45}
\B{.425,.385,.31,.40,.50,.59,.56,.545,.50,.48,.473,.44,.51,.385,.27,.38,.38,.54,.544,.475,.50,.437,.455,.41}
\B{.40,.35,.275,.36,.48,.57,.55,.52,.51,.47,.44,.42,.485,.33,.24,.36,.36,.52,.52,.497,.48,.43,.44,.38}
\B{.365,.32,.27,.34,.45,.56,.53,.53,.49,.44,.42,.37,.457,.30,.235,.35,.35,.51,.515,.46,.46,.42,.43,.35}
\B{.35,.30,.25,.29,.43,.54,.52,.52,.48,.44,.36,.365,.42,.25,.23,.33,.33,.50,.49,.44,.42,.38,.41,.33}
\B{.32,.27,.245,.29,.42,.52,.46,.50,.47,.42,.35,.33,.41,.23,.19,.30,.30,.47,.46,.43,.42,.37,.405,.30}
\B{.30,.255,.225,.26,.39,.50,.45,.48,.45,.39,.33,.275,.395,.19,.17,.27,.27,.465,.455,.425,.42,.33,.352,.28}
\B{.275,.24,.245,.28,.32,.228,.435,.50,.50,.29,.302,.25,.345,.185,.165,.26,.26,.455,.44,.41,.39,.30,.335,.26}
\B{.228,.245,.27,.33,.47,.56,.50,.52,.395,.228,.215,.215,.31,.168,.115,.183,.183,.45,.50,.33,.317,.243,.265,.23}
\B{.22,.21,.228,.21,.27,.30,.33,.348,.346,.31,.265,.176,.235,.14,.155,.205,.205,.254,.254,.36,.40,.215,.207,.175}
\B{.195,.183,.19,.21,.22,.255,.275,.297,.30,.28,.22,.165,.315,.138,.115,.22,.22,.28,.285,.277,.285,.195,.22,.16}
\B{.12,.10,.165,.19,.23,.25,.43,.48,.49,.43,.27,.088,.31,.14,.13,.255,.255,.46,.47,.33,.26,.30,.20,.08}
\B{.09,.11,.13,.18,.325,.255,.275,.30,.30,.28,.25,.24,.30,.20,.11,.29,.29,.45,.50,.215,.26,.21,.205,.165}
\end{axis}
% T18SVF
\begin{axis}[base,UR,at={(407.65pt,-1277.5pt)},anchor=south west,width=280.75pt,height=147.75pt,ymin=.0628,ymax=.6099,
 ytick={.1,.2,.3,.4,.5,.6},yticklabels={0.1,0.2,0.3,0.4,0.5,0.6},
 title={Mean Values Over Time for T18SVF Mowing and Control Sites}]
\addlegendimage{mw}\addlegendimage{ct}
\Or{.38,.30,.35,.27,.30,.30,.30,.37,.374,.375,.488,.35,.33,.33,.26,.30,.30,.24,.295,.33,.345,.345,.43,.365}
\Or{.355,.335,.35,.26,.285,.285,.28,.335,.34,.34,.47,.32,.29,.30,.24,.28,.28,.25,.28,.31,.31,.31,.415,.355}
\Or{.32,.28,.305,.245,.27,.27,.265,.29,.30,.31,.45,.32,.26,.28,.22,.26,.26,.235,.26,.28,.275,.275,.39,.335}
\Or{.30,.26,.29,.23,.25,.25,.25,.26,.275,.27,.43,.27,.25,.25,.22,.24,.24,.22,.245,.26,.26,.25,.365,.29}
\Or{.24,.215,.255,.205,.23,.23,.22,.25,.26,.26,.41,.265,.22,.21,.205,.22,.22,.21,.24,.25,.25,.235,.34,.29}
\Or{.225,.20,.22,.20,.215,.215,.225,.23,.24,.24,.35,.205,.21,.20,.19,.215,.215,.20,.235,.24,.23,.22,.32,.26}
\Or{.22,.22,.21,.21,.205,.205,.205,.21,.215,.23,.33,.205,.19,.205,.18,.208,.208,.18,.21,.22,.21,.20,.245,.215}
\Or{.19,.18,.185,.19,.183,.183,.20,.195,.205,.195,.315,.185,.19,.18,.17,.188,.188,.155,.185,.18,.185,.165,.22,.185}
\Or{.21,.18,.195,.172,.19,.19,.215,.215,.23,.235,.34,.22,.172,.178,.17,.195,.195,.165,.185,.20,.21,.20,.235,.195}
\Or{.355,.30,.345,.27,.28,.28,.30,.33,.34,.355,.46,.35,.345,.31,.275,.30,.30,.25,.28,.30,.30,.34,.38,.335}
\Or{.265,.245,.28,.24,.265,.265,.28,.28,.295,.30,.40,.30,.28,.24,.21,.255,.255,.21,.245,.265,.28,.275,.35,.28}
\Or{.225,.21,.23,.205,.215,.215,.24,.24,.25,.245,.38,.21,.215,.205,.195,.22,.22,.205,.24,.245,.235,.23,.30,.235}
\B{.422,.422,.422,.422,.422,.422,.422,.422,.422,.422,.422,.422,.422,.422,.422,.422,.422,.422,.422,.422,.422,.422,.422,.422}
\B{.47,.405,.43,.385,.41,.41,.417,.43,.45,.47,.585,.475,.457,.41,.37,.385,.385,.34,.398,.413,.44,.458,.518,.452}
\B{.44,.37,.415,.33,.368,.368,.335,.38,.41,.425,.55,.43,.40,.36,.32,.325,.325,.29,.355,.375,.40,.41,.488,.415}
\B{.43,.345,.39,.32,.355,.355,.32,.38,.39,.415,.535,.40,.38,.36,.31,.333,.333,.27,.35,.355,.38,.41,.473,.405}
\B{.395,.32,.357,.29,.31,.31,.307,.31,.33,.36,.485,.37,.345,.325,.29,.30,.30,.235,.295,.305,.33,.34,.433,.365}
\B{.37,.275,.328,.265,.295,.295,.25,.31,.32,.325,.48,.30,.325,.28,.285,.296,.296,.23,.25,.29,.32,.295,.347,.30}
\B{.34,.237,.305,.256,.277,.277,.245,.24,.245,.27,.42,.26,.26,.225,.22,.262,.262,.27,.275,.30,.265,.26,.305,.277}
\B{.29,.22,.26,.22,.23,.23,.23,.225,.24,.245,.39,.23,.22,.215,.20,.245,.245,.235,.23,.235,.23,.235,.305,.255}
\B{.26,.205,.26,.20,.23,.23,.21,.22,.23,.24,.38,.23,.205,.215,.195,.225,.225,.16,.21,.22,.23,.21,.26,.24}
\B{.245,.185,.235,.195,.21,.21,.195,.19,.205,.215,.34,.22,.17,.20,.165,.21,.21,.195,.205,.215,.20,.19,.235,.235}
\B{.21,.173,.215,.19,.205,.205,.19,.195,.21,.24,.33,.205,.157,.265,.185,.20,.20,.088,.19,.19,.20,.18,.21,.215}
\B{.235,.215,.25,.21,.228,.228,.18,.23,.25,.27,.36,.21,.205,.225,.19,.222,.222,.19,.215,.22,.228,.228,.29,.27}
\B{.24,.20,.24,.20,.23,.23,.23,.24,.25,.25,.40,.225,.21,.22,.19,.225,.225,.19,.215,.225,.22,.215,.30,.24}
\end{axis}
\end{tikzpicture}
\end{document}
